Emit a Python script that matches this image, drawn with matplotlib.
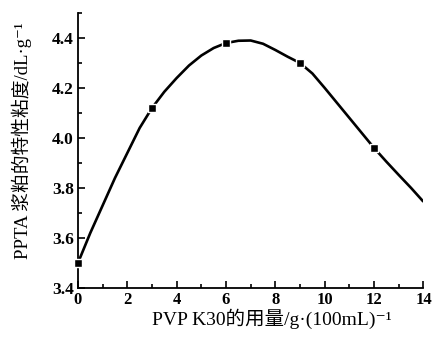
import matplotlib
matplotlib.use("Agg")
import matplotlib.pyplot as plt
from matplotlib.ticker import MultipleLocator

plt.rcParams['font.family'] = ['Liberation Serif', 'Noto Sans CJK SC', 'DejaVu Serif']

# measured points (markers)
pvp_dose = [0, 3, 6, 9, 12]
viscosity = [3.50, 4.12, 4.38, 4.30, 3.96]

# fitted curve
curve_x = [0, 0.5, 1, 1.5, 2, 2.5, 3, 3.5, 4, 4.5, 5, 5.5, 6, 6.5, 7, 7.5,
           8, 8.5, 9, 9.5, 10, 10.5, 11, 11.5, 12, 12.5, 13, 13.5, 14]
curve_y = [3.50, 3.62, 3.73, 3.84, 3.94, 4.04, 4.12, 4.185, 4.24, 4.29,
           4.33, 4.36, 4.38, 4.389, 4.39, 4.377, 4.352, 4.325, 4.30, 4.258,
           4.20, 4.14, 4.08, 4.02, 3.96, 3.905, 3.852, 3.80, 3.745]

fig = plt.figure(figsize=(4.33, 3.37), dpi=100)
ax = fig.add_axes([0.180, 0.1454, 0.798, 0.816])

ax.plot(curve_x, curve_y, color='black', lw=1.9, solid_capstyle='butt', zorder=2)
ax.plot(pvp_dose, viscosity, ls='none', marker='s', ms=5.5, color='black',
        mec='white', mew=1.0, zorder=3, clip_on=False)

ax.set_xlim(0, 14)
ax.set_ylim(3.4, 4.5)
ax.xaxis.set_major_locator(MultipleLocator(2))
ax.xaxis.set_minor_locator(MultipleLocator(1))
ax.yaxis.set_minor_locator(MultipleLocator(0.1))
ax.set_yticks([3.4, 3.6, 3.8, 4.0, 4.2, 4.4])

for side in ['top', 'right']:
    ax.spines[side].set_visible(False)
for side in ['left', 'bottom']:
    ax.spines[side].set_linewidth(1.3)

ax.tick_params(which='both', direction='in', width=1.2, labelsize=12.5, pad=3)
ax.tick_params(axis='x', labelsize=12)
ax.tick_params(which='major', length=5)
ax.tick_params(which='minor', length=3)
for lab in ax.get_xticklabels() + ax.get_yticklabels():
    lab.set_fontweight('bold')

ax.set_xlabel('PVP K30的用量/g·(100mL)⁻¹', fontsize=14)
ax.set_ylabel('PPTA 浆粕的特性粘度/dL·g⁻¹', fontsize=13.5)
ax.xaxis.set_label_coords(0.56, -0.075)
ax.yaxis.set_label_coords(-0.132, 0.535)

fig.savefig('out.png', dpi=100)
